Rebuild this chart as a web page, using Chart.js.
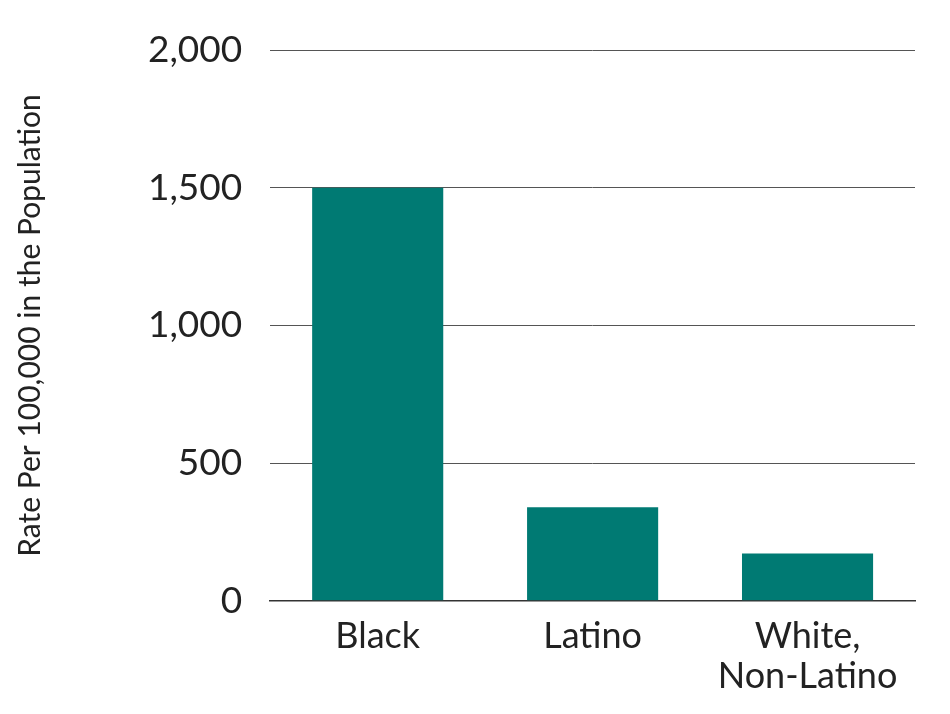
<!DOCTYPE html>
<html>
<head>
<meta charset="utf-8">
<script src="https://cdn.jsdelivr.net/npm/chart.js@4"></script>
<style>
	body { margin: 0; background: #fff; }
	#wrap { width: 950px; height: 714px; }
</style>
</head>
<body>
<div id="wrap"><canvas id="chart"></canvas></div>
<script>
const categories = ['Black', 'Latino', ['White,', 'Non-Latino']]
const rates = [1500, 340, 172]
const y_ticks = [0, 500, 1000, 1500, 2000]

// eslint-disable-next-line
const rate_chart = new Chart(document.getElementById('chart'), {
	type: 'bar',
	data: {
		labels: categories,
		datasets: [
			{
				backgroundColor: '#007A73',
				data: rates,
				barPercentage: 0.61,
				categoryPercentage: 1,
			},
		],
	},
	options: {
		responsive: true,
		maintainAspectRatio: false,
		animation: false,
		layout: { padding: { top: 28, right: 35, left: 8, bottom: 10 } },
		plugins: { legend: { display: false }, tooltip: { enabled: false } },
		scales: {
			x: {
				grid: { display: false },
				border: { color: '#333', width: 1.5 },
				ticks: {
					color: '#222',
					font: { family: 'Lato', size: 36, lineHeight: 1.1 },
					padding: 8,
				},
			},
			y: {
				min: 0,
				max: 2000,
				afterBuildTicks: (axis) => {
					axis.ticks = y_ticks.map((v) => ({ value: v }))
				},
				grid: { color: '#555', drawTicks: false, lineWidth: 1 },
				border: { display: false },
				ticks: {
					color: '#222',
					font: { family: 'Lato', size: 37 },
					padding: 28,
					callback: (v) => v.toLocaleString('en-US'),
				},
				title: {
					display: true,
					text: 'Rate Per 100,000 in the Population',
					color: '#222',
					font: { family: 'Lato', size: 30 },
					padding: { bottom: 72 },
				},
			},
		},
	},
})
</script>
</body>
</html>
